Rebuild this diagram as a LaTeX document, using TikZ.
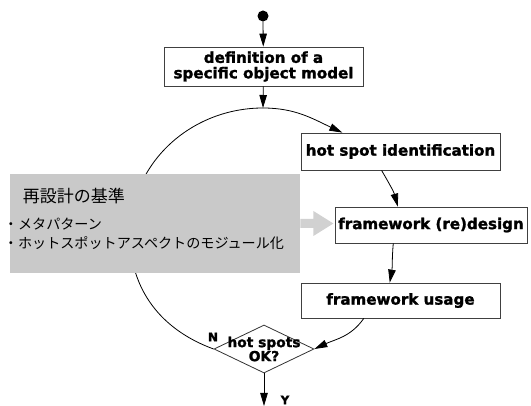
\documentclass[tikz,border=0pt]{standalone}
\usepackage{fontspec}
\setmainfont{DejaVu Sans}[BoldFeatures={FakeBold=1.5}]
\newfontfamily\jpfont{Noto Sans CJK JP}
\usetikzlibrary{arrows.meta,shapes.geometric}

\begin{document}
\begin{tikzpicture}[
  x=1pt, y=1pt,
  line width=0.8pt,
  >={Triangle[length=13pt,width=7.5pt]}
]

  % styles for steps, decision and the criteria panel
  \tikzset{
    stepbox/.style={draw=black!75, fill=white, inner sep=0pt,
      font=\fontsize{15.1}{15.5}\selectfont\bfseries, align=center},
    decision/.style={draw=black!80, shape=diamond, inner sep=0pt,
      minimum width=100pt, minimum height=48pt},
    critbox/.style={fill=black!21, inner sep=0pt, minimum width=290pt,
      minimum height=99pt},
    crittext/.style={anchor=west, inner sep=0pt, font=\jpfont\fontsize{14.1}{14}\selectfont},
    critarrow/.style={fill=black!18},
    flow/.style={->, black}
  }

  \useasboundingbox (0,0) rectangle (531,-406);

  % start
  \fill (263,-16) circle (5.5pt);
  \coordinate (start) at (263,-21.5);

  % steps
  \node[stepbox, minimum width=199pt, minimum height=39pt] (def) at (263.5,-66.5)
    {definition of a\\specific object model};
  \node[stepbox, minimum width=199pt, minimum height=37pt] (hsi) at (400.5,-151.5)
    {hot spot identification};
  \node[stepbox, minimum width=192pt, minimum height=36pt] (red) at (431,-225)
    {framework (re)design};
  \node[stepbox, minimum width=199pt, minimum height=35pt] (use) at (400.5,-300.5)
    {framework usage};

  % decision
  \node[decision] (ok) at (264,-349) {};
  \node[font=\fontsize{13.8}{14}\selectfont\bfseries, align=center] (oktext) at (ok)
    {hot spots\\OK?};
  \node[font=\fontsize{12}{12}\selectfont\bfseries] (nlabel) at (213,-337) {N};
  \node[font=\fontsize{12}{12}\selectfont\bfseries] (ylabel) at (285,-400) {Y};

  \coordinate (top) at (263,-108);
  \coordinate (lft) at (130,-235);
  \coordinate (yend) at (264,-406);

  % cycle
  \draw[flow] (start) -- (def);
  \draw[flow] (def) -- (top);
  \draw[flow] (top) to[out=0,in=155] (hsi.162);
  \draw[flow] (hsi.-135) to[out=-60,in=105] (red.151);
  \draw[flow] (red.206.6) to[out=-95,in=80] (use.121);
  \draw[flow] (use.206) to[out=-125,in=25] (ok.east);
  \draw (top) to[out=180,in=90] (lft) to[out=-90,in=160] (ok.west);
  \draw[flow] (ok.south) -- (yend);

  % redesign criteria
  \node[critbox] (crit) at (155,-223.5) {};
  \node[crittext, font=\jpfont\fontsize{17}{17}\selectfont] (crittitle)
    at ([xshift=13pt,yshift=-22pt]crit.north west) {再設計の基準};
  \node[crittext] (critone) at ([xshift=-6pt,yshift=-50pt]crit.north west) {・メタパターン};
  \node[crittext] (crittwo) at ([xshift=-6pt,yshift=-69pt]crit.north west)
    {・ホットスポットアスペクトのモジュール化};
  \fill[critarrow] (crit.east) ++(0,4.5) -- ++(13,0) -- ++(0,8) -- ++(20,-12.5)
    -- ++(-20,-12.5) -- ++(0,8) -- ++(-13,0) -- cycle;

\end{tikzpicture}
\end{document}
